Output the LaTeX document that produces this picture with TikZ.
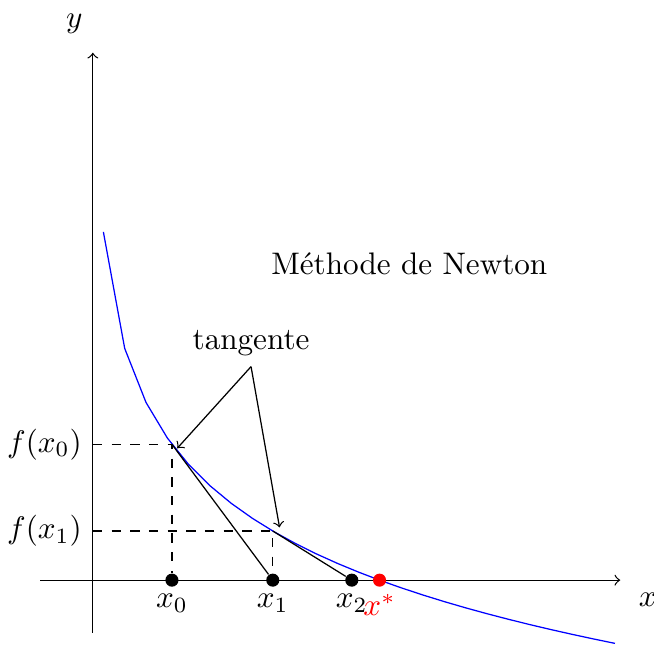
\documentclass[tikz,border=0pt]{standalone}
\usepackage{tikz}
\usepackage{amsmath}
\usepackage{xcolor}

\begin{document}
\begin{tikzpicture}[x=1.19cm, y=1.19cm,
    newtondot/.style={circle, fill, inner sep=0pt, minimum size=4.2pt}]
    \useasboundingbox (-0.88,-0.607) rectangle (5.32,5.5);

    % Axes
    \draw[->] (-0.5,0) -- (5,0);
    \draw[->] (0,-0.5) -- (0,5);
    \node (xlab) at (5.26,-0.185) {$x$};
    \node (ylab) at (-0.175,5.27) {$y$};

    % Function
    \draw[blue, domain=0.1:4.95, samples=25] plot (\x, {1-ln(\x)});

    % Points on the curve
    \coordinate (p0) at (0.75,{1-ln(0.75)});
    \coordinate (p1) at (1.706,{1-ln(1.706)});
    \coordinate (y0) at (0,{1-ln(0.75)});
    \coordinate (y1) at (0,{1-ln(1.706)});

    % Iterates
    \foreach \n/\p in {0/0.75, 1/1.706, 2/2.455}
        \node[newtondot, label={[inner sep=2pt]below:$x_{\n}$}] (x\n) at (\p,0) {};
    \node[newtondot, red, label={[red, inner sep=2pt]below:$x^*$}] (xs) at (2.718,0) {};

    % Dashed guides
    \draw[dashed] (y0) -- (p0) -- (x0);
    \draw[dashed] (y1) -- (p1) -- (x1);
    \node[left] (fx0) at (y0) {$f(x_0)$};
    \node[left] (fx1) at (y1) {$f(x_1)$};

    % Tangents
    \draw (p0) -- (x1);
    \draw (p1) -- (x2);

    % Labels
    \node (tang) at (1.5,2.25) {tangente};
    \coordinate (a0) at (0.8,1.25);
    \coordinate (a1) at (1.77,0.5);
    \draw[->] (tang.south) -- (a0);
    \draw[->] (tang.south) -- (a1);
    \node (title) at (3,3) {Méthode de Newton};
\end{tikzpicture}
\end{document}
